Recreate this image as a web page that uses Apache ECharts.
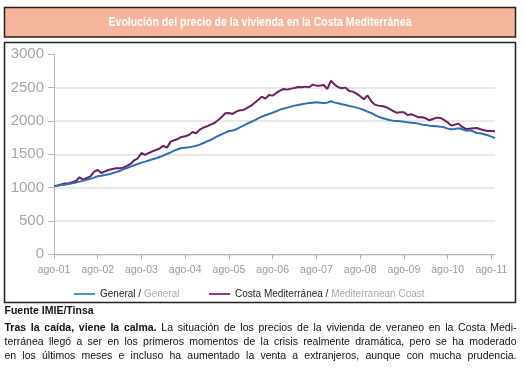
<!DOCTYPE html>
<html><head><meta charset="utf-8">
<script src="https://cdn.jsdelivr.net/npm/echarts@6/dist/echarts.min.js"></script>
<style>html,body{margin:0;padding:0;background:#fff}#c{width:526px;height:369px}</style>
</head><body><div id="c"></div>
<script>
// ---- data ----
const monthNames = ['ago','sep','oct','nov','dic','ene','feb','mar','abr','may','jun','jul'];
const startYears = [1, 2, 3, 4, 5, 6, 7, 8, 9, 10, 11]; // year of each 'ago' start (20xx)
const lastMonths = ['ago', 'sep']; // final partial year (2011)

const generalData = [
  1025, 1030, 1038, 1045, 1055, 1065, 1078, 1090, 1105, 1118, 1132, 1150,
  1170, 1178, 1188, 1200, 1215, 1232, 1250, 1275, 1295, 1315, 1335, 1355,
  1375, 1390, 1408, 1425, 1440, 1460, 1480, 1505, 1530, 1555, 1575, 1595,
  1600, 1605, 1615, 1628, 1645, 1670, 1695, 1715, 1745, 1775, 1800, 1825,
  1850, 1858, 1875, 1905, 1930, 1960, 1985, 2010, 2040, 2065, 2085, 2105,
  2125, 2145, 2170, 2185, 2200, 2215, 2230, 2240, 2250, 2260, 2270, 2275,
  2280, 2275, 2270, 2275, 2295, 2275, 2265, 2250, 2240, 2225, 2215, 2200,
  2185, 2165, 2140, 2120, 2090, 2065, 2045, 2030, 2015, 2005, 2000, 1995,
  1990, 1980, 1972, 1968, 1960, 1945, 1938, 1930, 1925, 1920, 1915, 1905,
  1885, 1875, 1880, 1890, 1875, 1855, 1860, 1845, 1820, 1815, 1800, 1785,
  1765, 1742
];
const costaData = [
  1025, 1032, 1048, 1062, 1065, 1080, 1100, 1155, 1120, 1145, 1170, 1240,
  1265, 1220, 1245, 1265, 1280, 1290, 1290, 1300, 1325, 1355, 1410, 1440,
  1520, 1490, 1520, 1545, 1565, 1590, 1625, 1600, 1690, 1710, 1730, 1760,
  1770, 1790, 1835, 1815, 1870, 1900, 1920, 1945, 1970, 2010, 2060, 2115,
  2120, 2105, 2140, 2160, 2165, 2195, 2225, 2270, 2315, 2365, 2335, 2390,
  2380, 2420, 2455, 2480, 2470, 2485, 2495, 2510, 2505, 2515, 2505, 2545,
  2530, 2530, 2540, 2480, 2605, 2545, 2505, 2490, 2500, 2450, 2440, 2410,
  2370, 2325, 2385, 2300, 2245, 2230, 2225, 2210, 2180, 2150, 2125, 2130,
  2130, 2090, 2100, 2080, 2055, 2055, 2040, 2010, 2030, 2050, 2045, 2015,
  1980, 1930, 1945, 1960, 1910, 1880, 1885, 1890, 1895, 1875, 1860, 1850,
  1848, 1845
];
const yTicks = [0, 500, 1000, 1500, 2000, 2500, 3000];

const titleText = 'Evolución del precio de la vivienda en la Costa Mediterránea';
const sourceText = 'Fuente IMIE/Tinsa';
const paragraph = [
  [{t: 'Tras la caída, viene la calma.', b: true}, {t: 'La situación de los precios de la vivienda de veraneo en la Costa Medi-', b: false}],
  [{t: 'terránea llegó a ser en los primeros momentos de la crisis realmente dramática, pero se ha moderado', b: false}],
  [{t: 'en los últimos meses e incluso ha aumentado la venta a extranjeros, aunque con mucha prudencia.', b: false}]
];

// ---- categories ----
const pad = n => (n < 10 ? '0' : '') + n;
const categories = [];
startYears.forEach(y => {
  if (y === 11) { lastMonths.forEach(m => categories.push(m + '-' + pad(y))); return; }
  monthNames.forEach((m, i) => categories.push(m + '-' + pad(i < 5 ? y : y + 1)));
});

const FONT = '"Liberation Sans", Arial, Helvetica, sans-serif';
const ctx = document.createElement('canvas').getContext('2d');
function measure(t, font) { ctx.font = font; return ctx.measureText(t).width; }

// ---- graphics ----
const graphics = [];
graphics.push({type: 'rect', shape: {x: 4.5, y: 7.5, width: 511, height: 29.5},
  style: {fill: '#f5b49c', stroke: '#231f20', lineWidth: 1.5}, silent: true, z: 0});
const titleFont = 'bold 13px ' + FONT;
const tW = measure(titleText, titleFont);
graphics.push({type: 'text', x: 260, y: 22.5, scaleX: 303 / tW, originX: 0, originY: 0,
  style: {text: titleText, font: titleFont, fill: '#ffffff', textAlign: 'center', textVerticalAlign: 'middle', align: 'center', verticalAlign: 'middle'}, silent: true, z: 1});
graphics.push({type: 'rect', shape: {x: 4.5, y: 42.5, width: 511, height: 260},
  style: {fill: 'none', stroke: '#231f20', lineWidth: 1.5}, silent: true, z: 0});
graphics.push({type: 'text', x: 4.5, y: 311,
  style: {text: sourceText, font: 'bold 10.5px ' + FONT, fill: '#111', textVerticalAlign: 'middle', verticalAlign: 'middle'}, silent: true});

const pX0 = 4.5, pW = 512, pY = [328.5, 342.5, 356.5];
paragraph.forEach((line, li) => {
  const words = [];
  line.forEach(seg => seg.t.split(' ').forEach(w => words.push({w, b: seg.b})));
  words.forEach(o => { o.font = (o.b ? 'bold ' : '') + '10.5px ' + FONT; o.width = measure(o.w, o.font); });
  const sum = words.reduce((a, o) => a + o.width, 0);
  const gap = (pW - sum) / (words.length - 1);
  let x = pX0;
  words.forEach(o => {
    graphics.push({type: 'text', x: x, y: pY[li],
      style: {text: o.w, font: o.font, fill: '#111', textVerticalAlign: 'middle', verticalAlign: 'middle'}, silent: true});
    x += o.width + gap;
  });
});

const chart = echarts.init(document.getElementById('c'), null, {renderer: 'canvas'});
chart.setOption({
  animation: false,
  backgroundColor: '#ffffff',
  textStyle: {fontFamily: FONT},
  grid: {left: 54, right: 31, top: 54.3, bottom: 114.7, containLabel: false},
  xAxis: {
    type: 'category', data: categories, boundaryGap: false,
    axisLine: {lineStyle: {color: '#b5b5b5', width: 1}},
    axisTick: {show: true, interval: 11, length: 5, lineStyle: {color: '#b5b5b5'}},
    axisLabel: {interval: 11, color: '#9a9a9a', fontSize: 10.5, margin: 10, fontFamily: FONT},
    splitLine: {show: false}
  },
  yAxis: {
    type: 'value', min: yTicks[0], max: yTicks[yTicks.length - 1], interval: 500,
    axisLine: {show: true, lineStyle: {color: '#b5b5b5', width: 1}},
    axisTick: {show: true, length: 6, lineStyle: {color: '#b5b5b5'}},
    axisLabel: {color: '#a6a6a6', fontSize: 15, margin: 10, fontFamily: FONT, formatter: v => String(v)},
    splitLine: {show: true, lineStyle: {width: 1.5, color: ['#e2e2e2', '#e2e2e2', '#e2e2e2', '#e2e2e2', '#e2e2e2', '#e2e2e2', 'rgba(0,0,0,0)']}}
  },
  legend: [
    {data: [{name: 'General', itemStyle: {color: '#3d9ad9'}}], left: 74, top: 289,
     icon: 'rect', itemWidth: 21, itemHeight: 2, itemGap: 8, padding: 0,
     formatter: () => 'General / {en|General}',
     textStyle: {fontSize: 10, color: '#222', fontFamily: FONT, rich: {en: {fontSize: 10, color: '#aaaaaa', fontFamily: FONT}}}},
    {data: [{name: 'Costa Mediterránea', itemStyle: {color: '#8b3a8e'}}], left: 209, top: 289,
     icon: 'rect', itemWidth: 21, itemHeight: 2, itemGap: 8, padding: 0,
     formatter: () => 'Costa Mediterránea / {en|Mediterranean Coast}',
     textStyle: {fontSize: 10, color: '#222', fontFamily: FONT, rich: {en: {fontSize: 10, color: '#aaaaaa', fontFamily: FONT}}}}
  ],
  series: [
    {name: 'General', type: 'line', data: generalData, showSymbol: false, symbol: 'none',
     lineStyle: {color: '#2f6db5', width: 2}, itemStyle: {color: '#2f6db5'}, z: 3},
    {name: 'Costa Mediterránea', type: 'line', data: costaData, showSymbol: false, symbol: 'none',
     lineStyle: {color: '#6b1e62', width: 2}, itemStyle: {color: '#6b1e62'}, z: 2}
  ],
  graphic: graphics
});
</script>
</body></html>
